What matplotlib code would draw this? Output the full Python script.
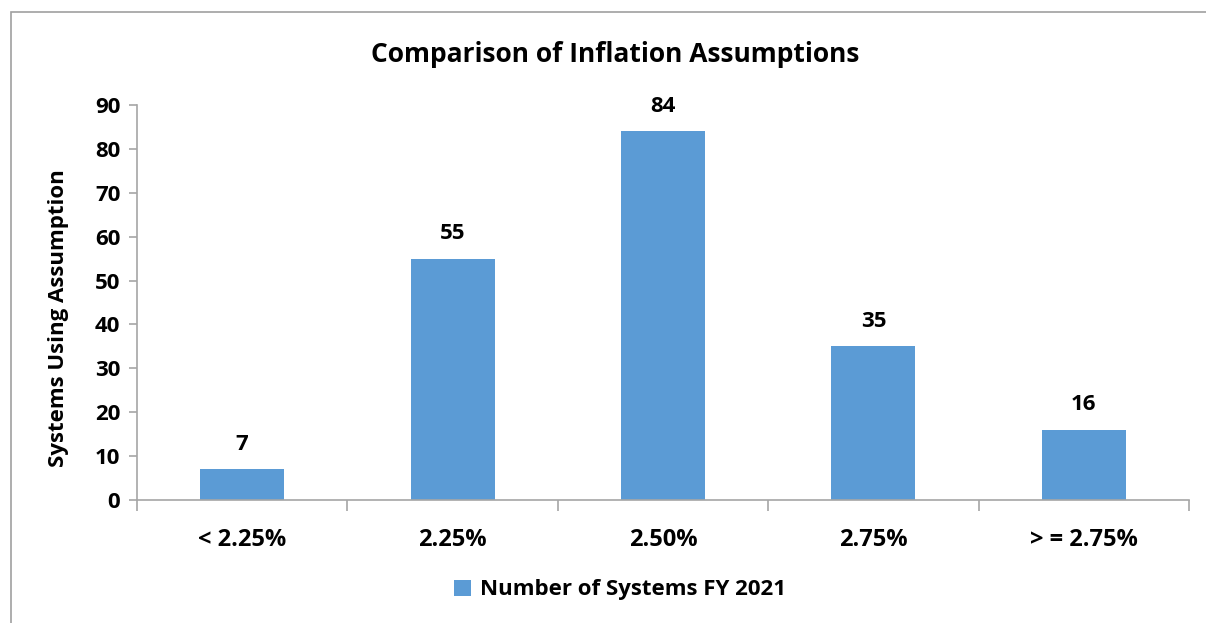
import matplotlib.pyplot as plt
from matplotlib.patches import Rectangle

categories = ['< 2.25%', '2.25%', '2.50%', '2.75%', '> = 2.75%']
systems = [7, 55, 84, 35, 16]
series_name = 'Number of Systems FY 2021'
y_ticks = [0, 10, 20, 30, 40, 50, 60, 70, 80, 90]

plt.rcParams['font.family'] = ['Open Sans', 'DejaVu Sans']
plt.rcParams['font.weight'] = 'bold'

bar_color = '#5B9BD5'
axis_color = '#A6A6A6'
fs = 16

fig = plt.figure(figsize=(12.06, 6.23), dpi=100)
# chart area border
fig.patches.append(Rectangle((11 / 1206, -0.05), 1.2, 1 - 12 / 623 + 0.05,
                             transform=fig.transFigure, fill=False,
                             edgecolor='#A0A0A0', linewidth=1.2))

ax = fig.add_axes([137 / 1206, 1 - 500 / 623, (1189 - 137) / 1206, (500 - 105) / 623])
x = range(len(categories))
bars = ax.bar(x, systems, width=0.4, color=bar_color, label=series_name, zorder=2)
for b, v in zip(bars, systems):
    ax.annotate(str(v), (b.get_x() + b.get_width() / 2, v), xytext=(0, 18),
                textcoords='offset points', ha='center', va='center',
                fontsize=fs, fontweight='bold')

ax.set_xlim(-0.5, len(categories) - 0.5)
ax.set_ylim(0, 90)
ax.set_yticks(y_ticks)
ax.set_xticks(list(x))
ax.set_xticklabels(categories)
ax.set_xticks([i - 0.5 for i in range(len(categories) + 1)], minor=True)
ax.tick_params(axis='x', which='major', length=0, pad=20, labelsize=17)
ax.tick_params(axis='x', which='minor', length=8, color=axis_color, width=1.2)
ax.tick_params(axis='y', length=6, color=axis_color, width=1.2, labelsize=fs, pad=6)
for lbl in ax.get_xticklabels() + ax.get_yticklabels():
    lbl.set_fontweight('bold')

for s in ['top', 'right']:
    ax.spines[s].set_visible(False)
for s in ['left', 'bottom']:
    ax.spines[s].set_color(axis_color)
    ax.spines[s].set_linewidth(1.2)

ax.set_ylabel('Systems Using Assumption', fontsize=fs, fontweight='bold')
ax.yaxis.set_label_coords(-0.065, 0.46)
fig.text(615 / 1206, 1 - 55 / 623, 'Comparison of Inflation Assumptions',
         ha='center', va='center', fontsize=19, fontweight='bold')

ax.legend(loc='center', bbox_to_anchor=(620 / 1206, 1 - 590 / 623),
          bbox_transform=fig.transFigure, frameon=False,
          handlelength=0.75, handleheight=0.75, handletextpad=0.4,
          prop={'weight': 'bold', 'size': fs})

fig.savefig('out.png', dpi=100)
